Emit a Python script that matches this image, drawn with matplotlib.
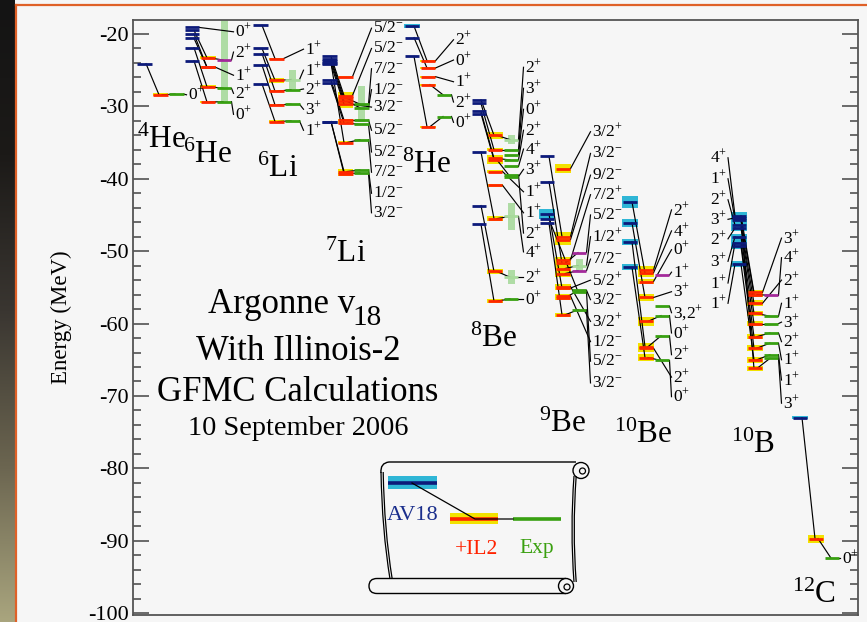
import numpy as np
import matplotlib
matplotlib.use('Agg')
import matplotlib.pyplot as plt
from matplotlib.patches import Rectangle, Circle, PathPatch
from matplotlib.path import Path
from matplotlib.ticker import MultipleLocator

plt.rcParams['font.family'] = ['Liberation Serif', 'DejaVu Serif']
plt.rcParams['mathtext.fontset'] = 'custom'
plt.rcParams['mathtext.rm'] = 'Liberation Serif'
plt.rcParams['mathtext.it'] = 'Liberation Serif:italic'
plt.rcParams['mathtext.bf'] = 'Liberation Serif:bold'
plt.rcParams['axes.unicode_minus'] = False

N = None

# ---------------- data (energies in MeV) ----------------
he4_labels = ['0+']
he4_lbl_y = [-28.4]
he4_av18 = [-24.1]
he4_av18_err = [0]
he4_il2 = [-28.4]
he4_il2_err = [0.2]
he4_exp = [-28.3]
he4_exp_kind = ['g']
he4_exp_width = [0]

he6_labels = ['0+', '2+', '1+', '2+', '0+', '']
he6_lbl_y = [-19.7, -22.5, -25.7, -28.2, -31.1, N]
he6_av18 = [-19.1, -19.5, -20.6, -21.9, -23.7, -20.0]
he6_av18_err = [0, 0, 0, 0, 0, 0]
he6_il2 = [N, -23.3, -24.6, -27.3, -29.4, -24.6]
he6_il2_err = [0, 0.2, 0.2, 0.2, 0.2, 0]
he6_exp = [N, -23.6, N, -27.5, -29.35, N]
he6_exp_kind = ['g', 'p', 'g', 'g', 'g', 'g']
he6_exp_width = [0, 5.8, 0, 0, 0, 0]

li6_labels = ['1+', '1+', '2+', '3+', '1+']
li6_lbl_y = [-22.1, -25.0, -27.6, -30.4, -33.3]
li6_av18 = [-18.8, -22.0, -22.7, -24.3, -26.9]
li6_av18_err = [0, 0, 0, 0, 0]
li6_il2 = [-23.4, -26.4, -27.9, -29.8, -32.1]
li6_il2_err = [0.15, 0.35, 0.15, 0.15, 0.15]
li6_exp = [N, -26.3, -27.7, -29.7, -32.0]
li6_exp_kind = ['g', 'l', 'g', 'g', 'g']
li6_exp_width = [0, 1.3, 0, 0, 0]

li7_labels = ['5/2-', '5/2-', '7/2-', '1/2-', '3/2-', '5/2-', '5/2-', '7/2-', '1/2-', '3/2-']
li7_lbl_y = [-19.2, -22.0, -24.8, -27.7, -30.1, -33.3, -36.3, -39.1, -42.0, -44.7]
li7_av18 = [N, -23.1, -23.5, -23.8, -24.2, -26.4, -26.8, -24.0, -32.1, -32.1]
li7_av18_err = [0, 0, 0, 0, 0, 0, 0, 0, 0, 0]
li7_il2 = [-25.9, -28.5, -28.9, -29.3, -29.7, -31.9, -32.3, -35.0, -39.0, -39.3]
li7_il2_err = [0.15, 0.5, 0.5, 0.5, 0.5, 0.2, 0.2, 0.15, 0.3, 0.3]
li7_exp = [N, N, -29.7, -30.2, N, -31.9, -32.5, -34.6, -38.8, -39.2]
li7_exp_kind = ['g', 'g', 'g', 'g', 'g', 'g', 'g', 'g', 'g', 'g']
li7_exp_width = [0, 0, 2.45, 0, 0, 0, 0, 0, 0, 0]

he8_labels = ['2+', '0+', '1+', '2+', '0+']
he8_lbl_y = [-20.8, -23.6, -26.6, -29.4, -32.2]
he8_av18 = [-18.9, -20.5, N, N, -23.1]
he8_av18_err = [0.3, 0, 0, 0, 0]
he8_il2 = [-23.7, -24.7, -25.9, -27.0, -32.8]
he8_il2_err = [0.15, 0.15, 0.15, 0.15, 0.15]
he8_exp = [N, N, N, -28.4, -31.4]
he8_exp_kind = ['g', 'g', 'g', 'g', 'g']
he8_exp_width = [0, 0, 0, 0, 0]

be8_labels = ['2+', '3+', '0+', '2+', '4+', '3+', '1+', '1+', '2+', '4+', '2+', '0+']
be8_lbl_y = [-24.6, -27.5, -30.4, -33.3, -35.9, -38.7, -41.8, -44.7, -47.5, -50.1, -53.6, -56.6]
be8_av18 = [-29.1, -29.6, N, -30.7, N, -31.0, N, N, N, -36.3, -43.7, -46.3]
be8_av18_err = [0, 0, 0, 0, 0, 0, 0, 0, 0, 0, 0, 0]
be8_il2 = [-34.0, -36.0, N, -37.2, N, -37.4, -39.0, -40.9, N, -45.5, -52.8, -56.9]
be8_il2_err = [0.5, 0.2, 0, 0.5, 0, 0.6, 0.2, 0.2, 0, 0.4, 0.4, 0.3]
be8_exp = [-34.6, -36.0, -36.7, -37.4, -38.3, -39.7, N, N, -39.5, -45.2, -53.6, -56.6]
be8_exp_kind = ['l', 'g', 'g', 'g', 'g', 'g', 'g', 'g', 'g', 'l', 'l', 'g']
be8_exp_width = [0.6, 0, 0, 0, 0, 0, 0, 0, 0, 1.9, 1.0, 0]

be9_labels = ['3/2+', '3/2-', '9/2-', '7/2+', '5/2-', '1/2+', '7/2-', '5/2+', '3/2-',
              '3/2+', '1/2-', '5/2-', '3/2-']
be9_lbl_y = [-33.5, -36.5, -39.5, -42.2, -45.0, -48.0, -51.1, -54.0, -56.7,
             -59.7, -62.5, -65.2, -68.2]
be9_av18 = [N, -36.9, N, N, -40.4, N, N, -44.9, N, N, N, -45.6, -46.1]
be9_av18_err = [0, 0, 0, 0, 0, 0, 0, 0.7, 0, 0, 0, 0, 0]
be9_il2 = [-38.6, -48.0, -48.4, -51.2, -51.7, -52.4, -53.1, -55.1, -56.5,
           -54.9, -56.2, N, -58.8]
be9_il2_err = [0.6, 0.7, 0.7, 0.4, 0.4, 0.4, 0.4, 0.3, 0.3, 0.3, 0.3, 0, 0.3]
be9_exp = [N, N, N, N, -50.2, -52.0, -52.7, N, -55.4, N, N, -55.6, -58.1]
be9_exp_kind = ['g', 'g', 'g', 'g', 'p', 'l', 'p', 'g', 'g', 'g', 'g', 'g', 'g']
be9_exp_width = [0, 0, 0, 0, 0, 0.9, 0, 0, 0, 0, 0, 0, 0]

be10_labels = ['2+', '4+', '0+', '1+', '3+', '3,2+', '0+', '2+', '2+', '0+']
be10_lbl_y = [-44.3, -47.2, -49.8, -52.9, -55.6, -58.5, -61.3, -64.3, -67.4, -70.1]
be10_av18 = [N, -43.2, N, N, -46.1, N, N, -48.7, N, -52.2]
be10_av18_err = [0, 0.8, 0, 0, 0.5, 0, 0, 0.4, 0, 0.45]
be10_il2 = [-52.6, -53.0, -54.2, N, -56.4, N, -59.7, -63.2, -63.4, -64.7]
be10_il2_err = [0.5, 0.5, 0.3, 0, 0.45, 0, 0.6, 0.5, 0.5, 0.45]
be10_exp = [N, N, N, -53.3, N, -57.6, -58.9, -61.7, N, -65.1]
be10_exp_kind = ['g', 'g', 'g', 'p', 'g', 'g', 'g', 'g', 'g', 'g']
be10_exp_width = [0, 0, 0, 0, 0, 0, 0, 0, 0, 0]

b10_labels = ['3+', '4+', '2+', '1+', '3+', '2+', '1+', '1+', '3+']
b10_lbl_y = [-48.2, -50.9, -54.0, -57.2, -59.8, -62.5, -65.0, -67.8, -71.0]
b10_av18 = [-45.1, -45.7, -46.4, -46.8, -48.0, -48.9, -49.3, -51.8, -45.4]
b10_av18_err = [0.5, 0.4, 0.4, 0.4, 0.4, 0.4, 0.4, 0.45, 0.4]
b10_il2 = [-55.7, -56.0, -57.2, -58.6, -60.0, -61.8, -63.4, -65.0, -66.2]
b10_il2_err = [0.4, 0.4, 0.4, 0.4, 0.4, 0.4, 0.4, 0.4, 0.4]
b10_exp = [N, -56.1, N, -59.0, -60.0, -61.3, -62.7, -64.3, -64.8]
b10_exp_kind = ['g', 'p', 'g', 'g', 'g', 'g', 'g', 'g', 'g']
b10_exp_width = [0, 0, 0, 0, 0, 0, 0, 0, 0]
b10_left_labels = ['4+', '1+', '2+', '3+', '2+', '3+', '1+', '1+']
b10_left_lbl_y = [-37.1, -40.0, -42.9, -45.6, -48.3, -51.4, -54.4, -57.2]
b10_left_av18 = [-45.1, -45.7, -46.4, -45.4, -46.8, -48.0, -48.9, -51.8]

c12_labels = ['0+']
c12_lbl_y = [-92.4]
c12_av18 = [-73.0]
c12_av18_err = [0.2]
c12_il2 = [-89.7]
c12_il2_err = [0.55]
c12_exp = [-92.4]
c12_exp_kind = ['g']
c12_exp_width = [0]

nucleus_names = [r'${}^{4}$He', r'${}^{6}$He', r'${}^{6}$Li', r'${}^{7}$Li', r'${}^{8}$He',
                 r'${}^{8}$Be', r'${}^{9}$Be', r'${}^{10}$Be', r'${}^{10}$B', r'${}^{12}$C']

# ---------------- layout (pixel-based positions) ----------------
def px2E(y):
    return -20.0 - (y - 34.0) / 7.24

col_x = [137, 185, 253, 322, 405, 472, 540, 623, 732, 793]      # left of AV18 column
lab_x = [188, 235, 305, 373, 455, 525, 592, 673, 783, 842]      # spin label x
name_pos = [(137, 148), (183, 163), (257, 177), (325, 262), (402, 173),
            (470, 347), (539, 432), (614, 443), (731, 453), (792, 603)]

def nucleus(prefix):
    g = globals()
    return dict(labels=g[prefix + '_labels'], lbl=g[prefix + '_lbl_y'],
                av=g[prefix + '_av18'], ave=g[prefix + '_av18_err'],
                il=g[prefix + '_il2'], ile=g[prefix + '_il2_err'],
                ex=g[prefix + '_exp'], exk=g[prefix + '_exp_kind'],
                exw=g[prefix + '_exp_width'])

nuclei = [nucleus(p) for p in ['he4', 'he6', 'li6', 'li7', 'he8', 'be8', 'be9', 'be10', 'b10', 'c12']]

C_AV = '#0c1a7a'
C_AVE = '#2fb6d6'
C_IL = '#ff2600'
C_ILE = '#f2e200'
C_EX = '#38a011'
C_P = '#a3299a'
C_L = '#a8da9c'
W = 14.5
DX = 16
LW = 2.0
BG = '#f6f6f6'
SPIN_FS = 12.5

fig = plt.figure(figsize=(8.67, 6.22), dpi=100, facecolor=BG)
ax = fig.add_axes([133 / 867, 1 - 614.6 / 622, (857.7 - 133) / 867, (614.6 - 20) / 622])
ax.set_facecolor(BG)
ax.set_xlim(133, 857.7)
ax.set_ylim(-100.2, -18.07)


def bar(x0, E, col, err=0, ecol=None):
    if err:
        ax.add_patch(Rectangle((x0 - 0.5, E - err), W + 1, 2 * err, facecolor=ecol,
                               edgecolor='none', zorder=2))
    ax.plot([x0, x0 + W], [E, E], color=col, lw=LW, solid_capstyle='butt', zorder=4)


def fmt(lbl):
    return lbl[:-1] + r'$^{' + lbl[-1] + r'}$'


for n, xa, lx in zip(nuclei, col_x, lab_x):
    xi = xa + DX
    xe = xa + 2 * DX
    for k in range(len(n['labels'])):
        pts = []
        if n['av'][k] is not None:
            bar(xa, n['av'][k], C_AV, n['ave'][k], C_AVE)
            pts.append((xa, n['av'][k]))
        if n['il'][k] is not None:
            bar(xi, n['il'][k], C_IL, n['ile'][k], C_ILE)
            pts.append((xi, n['il'][k]))
        if n['ex'][k] is not None:
            kind = n['exk'][k]
            col = {'g': C_EX, 'p': C_P, 'l': C_L}[kind]
            if n['exw'][k]:
                ax.add_patch(Rectangle((xe + W / 2 - 3.5, n['ex'][k] - n['exw'][k]), 7,
                                       2 * n['exw'][k], facecolor=C_L, edgecolor='none',
                                       alpha=0.9, zorder=1))
            bar(xe, n['ex'][k], col)
            pts.append((xe, n['ex'][k]))
        for (x0, e0), (x1, e1) in zip(pts[:-1], pts[1:]):
            ax.plot([x0 + 9, x1 + 6], [e0, e1], color='k', lw=0.85, zorder=3)
        if n['labels'][k] and pts:
            x0, e0 = pts[-1]
            ax.plot([x0 + W, lx - 1.5], [e0, n['lbl'][k]], color='k', lw=0.85, zorder=3)
            ax.text(lx, n['lbl'][k], fmt(n['labels'][k]), fontsize=SPIN_FS, ha='left',
                    va='center', zorder=5)

# 10B labels on the left of the AV18 column
xb = col_x[8]
for lbl, ly, av in zip(b10_left_labels, b10_left_lbl_y, b10_left_av18):
    ax.plot([xb - 4, xb + 3], [ly, av], color='k', lw=0.85, zorder=3)
    ax.text(xb - 4.5, ly, fmt(lbl), fontsize=SPIN_FS, ha='right', va='center', zorder=5)

# nucleus names
for name, (x, y) in zip(nucleus_names, name_pos):
    ax.text(x, px2E(y), name, fontsize=22.5, ha='left', va='baseline', zorder=5)

# title block
ax.text(208, px2E(313), 'Argonne v', fontsize=25, ha='left', va='baseline')
ax.text(352, px2E(325), '18', fontsize=21, ha='left', va='baseline')
ax.text(298, px2E(360), 'With Illinois-2', fontsize=25, ha='center', va='baseline')
ax.text(298, px2E(401), 'GFMC Calculations', fontsize=25, ha='center', va='baseline')
ax.text(298, px2E(435), '10 September 2006', fontsize=20.3, ha='center', va='baseline')

# axes styling
ax.set_xticks([])
ax.yaxis.set_major_locator(MultipleLocator(10))
ax.yaxis.set_minor_locator(MultipleLocator(2))
ax.tick_params(axis='y', which='both', direction='in', left=True, right=True,
               colors='#444444', labelcolor='black', width=1.1)
ax.tick_params(axis='y', which='major', length=11.5, labelsize=16, pad=3)
ax.tick_params(axis='y', which='minor', length=5.8)
for s in ax.spines.values():
    s.set_color('#555555')
    s.set_linewidth(1.3)
ax.set_ylabel('Energy (MeV)', fontsize=16.5)
ax.yaxis.set_label_coords((71.7 - 133) / 724.7, 0.5)

# ---------------- overlay in figure pixels ----------------
ov = fig.add_axes([0, 0, 1, 1], zorder=10)
ov.set_xlim(0, 867)
ov.set_ylim(622, 0)
ov.axis('off')
ov.patch.set_alpha(0)

# dark photo strip at the left and the orange frame
grad = np.linspace(0, 1, 256)[:, None]
cmap = matplotlib.colors.LinearSegmentedColormap.from_list(
    'strip', ['#141414', '#1c1a18', '#3a3631', '#6b6550', '#a9a57e'])
ov.imshow(grad, extent=(0, 15, 622, 0), aspect='auto', cmap=cmap, zorder=1)
ov.plot([16, 16], [5, 622], color='#df6128', lw=1.6, zorder=2)
ov.plot([16, 867], [5, 5], color='#df6128', lw=1.6, zorder=2)

# scroll legend
sheet_l = Path([(381, 473), (380, 463), (389, 462), (576, 462)],
               [Path.MOVETO, Path.CURVE3, Path.CURVE3, Path.LINETO])
ov.add_patch(PathPatch(sheet_l, fill=False, lw=1.0, ec='k'))
for dx in (0, 2.2):
    ov.add_patch(PathPatch(Path([(381 + dx, 472), (382 + dx, 530), (390 + dx, 579)],
                                [Path.MOVETO, Path.CURVE3, Path.CURVE3]),
                           fill=False, lw=0.9, ec='k'))
    ov.add_patch(PathPatch(Path([(574 + dx, 476), (570 + dx, 530), (574 + dx, 582)],
                                [Path.MOVETO, Path.CURVE3, Path.CURVE3]),
                           fill=False, lw=0.9, ec='k'))
ov.add_patch(Circle((581, 470.5), 8, fill=False, lw=1.0, ec='k'))
ov.add_patch(Circle((582.5, 471), 3, fill=False, lw=0.9, ec='k'))
roll = Path([(566, 578.5), (377, 578.5), (369, 578.5), (369, 586), (369, 593.5),
             (377, 593.5), (566, 593.5)],
            [Path.MOVETO, Path.LINETO, Path.CURVE3, Path.CURVE3, Path.CURVE3, Path.CURVE3,
             Path.LINETO])
ov.add_patch(PathPatch(roll, facecolor=BG, lw=1.0, ec='k'))
ov.add_patch(Circle((566, 586), 7.5, facecolor=BG, lw=1.0, ec='k'))
ov.add_patch(Circle((567, 587), 3, fill=False, lw=0.9, ec='k'))

ov.add_patch(Rectangle((388, 476), 49, 13, facecolor=C_AVE, edgecolor='none'))
ov.plot([388, 437], [483, 483], color=C_AV, lw=2.6, solid_capstyle='butt')
ov.add_patch(Rectangle((450, 513), 48, 11, facecolor=C_ILE, edgecolor='none'))
ov.plot([450, 498], [519, 519], color=C_IL, lw=2.6, solid_capstyle='butt')
ov.plot([513, 561], [519, 519], color=C_EX, lw=2.6, solid_capstyle='butt')
ov.plot([412, 475, 513], [483, 519, 519], color='k', lw=0.9)
ov.text(413, 515, 'AV18', color='#1a2e8c', fontsize=16, ha='center', va='center')
ov.text(476, 550, '+IL2', color='#ff2200', fontsize=15.5, ha='center', va='center')
ov.text(537, 549, 'Exp', color='#3aa010', fontsize=15.5, ha='center', va='center')

fig.savefig('out.png', dpi=100, facecolor=BG)
